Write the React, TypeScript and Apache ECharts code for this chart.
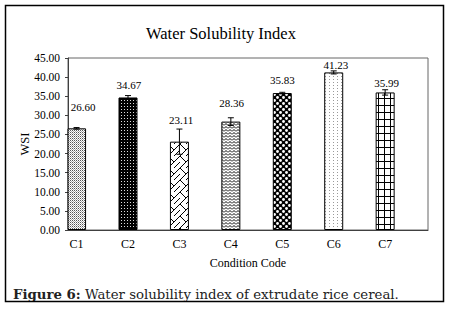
import React, { useEffect, useRef } from 'react';
import * as echarts from 'echarts';

// ---- data ----
const categories = ['C1', 'C2', 'C3', 'C4', 'C5', 'C6', 'C7'];
const wsiValues = [26.6, 34.67, 23.11, 28.36, 35.83, 41.23, 35.99];
const wsiErrors = [0.2, 0.5, 3.3, 1.0, 0.2, 0.4, 0.7];
const labelAnchors = [32.2, 37.9, 28.8, 33.2, 39.2, 43.2, 38.5];
const labelShiftSlots = [0.38, 0.05, 0.1, 0.05, 0, 0.13, 0.08];
const yMin = 0;
const yMax = 45;
const yInterval = 5;
const titleText = 'Water Solubility Index';
const xAxisName = 'Condition Code';
const yAxisName = 'WSI';
const captionBold = 'Figure 6:';
const captionText = ' Water solubility index of extrudate rice cereal.';

const SLOTS = 3; // each category occupies 3 axis slots (Excel-style cluster)
const SERIF = '"Liberation Serif", "Times New Roman", serif';
const CAPTION_FONT = '"DejaVu Serif", serif';

function tile(w: number, h: number, draw: (ctx: CanvasRenderingContext2D) => void) {
  const c = document.createElement('canvas');
  c.width = w;
  c.height = h;
  const ctx = c.getContext('2d')!;
  draw(ctx);
  return c;
}

function makePatterns() {
  const px = (ctx: CanvasRenderingContext2D, x: number, y: number, col: string) => {
    ctx.fillStyle = col;
    ctx.fillRect(x, y, 1, 1);
  };
  const p1 = tile(2, 2, (ctx) => {
    ctx.fillStyle = '#fff'; ctx.fillRect(0, 0, 2, 2);
    px(ctx, 0, 0, '#555'); px(ctx, 1, 1, '#aaa');
  });
  const p2 = tile(3, 3, (ctx) => {
    ctx.fillStyle = '#000'; ctx.fillRect(0, 0, 3, 3);
    px(ctx, 1, 1, '#ddd');
  });
  const p3 = tile(12, 12, (ctx) => {
    ctx.fillStyle = '#fff'; ctx.fillRect(0, 0, 12, 12);
    ctx.strokeStyle = '#000'; ctx.lineWidth = 1;
    ctx.beginPath();
    ctx.moveTo(-1, 13); ctx.lineTo(13, -1);
    ctx.moveTo(0, 0); ctx.lineTo(6, 6);
    ctx.moveTo(6, 12); ctx.lineTo(12, 6);
    ctx.stroke();
  });
  const p4 = tile(4, 3, (ctx) => {
    ctx.fillStyle = '#fff'; ctx.fillRect(0, 0, 4, 3);
    ctx.strokeStyle = '#000'; ctx.lineWidth = 1;
    ctx.beginPath();
    ctx.moveTo(0, 2.5); ctx.lineTo(2, 0.5); ctx.lineTo(4, 2.5);
    ctx.stroke();
  });
  const p5 = tile(6, 6, (ctx) => {
    ctx.fillStyle = '#000'; ctx.fillRect(0, 0, 6, 6);
    ctx.fillStyle = '#fff';
    ctx.beginPath(); ctx.arc(1.5, 1.5, 1.4, 0, Math.PI * 2); ctx.fill();
    ctx.beginPath(); ctx.arc(4.5, 4.5, 1.4, 0, Math.PI * 2); ctx.fill();
  });
  const p6 = tile(4, 3, (ctx) => {
    ctx.fillStyle = '#fff'; ctx.fillRect(0, 0, 4, 3);
    px(ctx, 1, 1, '#999');
  });
  const p7 = tile(6, 7, (ctx) => {
    ctx.fillStyle = '#fff'; ctx.fillRect(0, 0, 6, 7);
    ctx.fillStyle = '#000';
    ctx.fillRect(0, 0, 6, 1);
    ctx.fillRect(0, 0, 1, 7);
  });
  return [p1, p2, p3, p4, p5, p6, p7];
}

export default function App() {
  const ref = useRef<HTMLDivElement>(null);

  useEffect(() => {
    if (!ref.current) return;
    const chart = echarts.init(ref.current, null, { renderer: 'svg' });
    const patterns = makePatterns();

    const xData = Array.from({ length: categories.length * SLOTS }, (_, k) =>
      k % SLOTS === 0 ? categories[k / SLOTS] : ''
    );
    const barData = xData.map((_, k) => {
      if (k % SLOTS !== 0) return '-';
      const i = k / SLOTS;
      return {
        value: wsiValues[i],
        itemStyle: {
          color: { image: patterns[i], repeat: 'repeat' },
          borderColor: '#000',
          borderWidth: 1,
        },
      };
    });
    const errData = categories.map((_, i) => [i * SLOTS, wsiValues[i], wsiErrors[i]]);
    const labelData = categories.map((_, i) => [i * SLOTS, labelAnchors[i], wsiValues[i], labelShiftSlots[i]]);

    chart.setOption({
      animation: false,
      backgroundColor: '#fff',
      grid: { left: 68, top: 58, width: 360, height: 172, show: true, borderColor: '#666', borderWidth: 1 },
      xAxis: {
        type: 'category',
        data: xData,
        boundaryGap: true,
        axisLine: { lineStyle: { color: '#404040', width: 1 } },
        axisTick: { alignWithLabel: true, interval: 0, length: 3, lineStyle: { color: '#404040' } },
        axisLabel: { interval: 0, color: '#000', fontFamily: SERIF, fontSize: 12, margin: 8 },
        name: xAxisName,
        nameLocation: 'middle',
        nameGap: 27,
        nameTextStyle: { color: '#000', fontFamily: SERIF, fontSize: 12 },
      },
      yAxis: {
        type: 'value',
        min: yMin,
        max: yMax,
        interval: yInterval,
        splitLine: { show: false },
        axisLine: { show: true, lineStyle: { color: '#404040', width: 1 } },
        axisTick: { show: true, length: 3, lineStyle: { color: '#404040' } },
        axisLabel: {
          color: '#000', fontFamily: SERIF, fontSize: 11.5, margin: 8,
          formatter: (v: number) => v.toFixed(2),
        },
      },
      graphic: [
        {
          type: 'rect',
          shape: { x: 5.5, y: 5.5, width: 438, height: 296 },
          style: { fill: 'none', stroke: '#000', lineWidth: 1.5 },
          z: 100,
        },
        {
          type: 'text',
          x: 221,
          y: 33,
          style: {
            text: titleText, fill: '#000', fontFamily: SERIF, fontSize: 16.5,
            align: 'center', verticalAlign: 'middle',
          },
        },
        {
          type: 'text',
          x: 25,
          y: 144,
          rotation: Math.PI / 2,
          style: {
            text: yAxisName, fill: '#000', fontFamily: SERIF, fontSize: 12.5,
            align: 'center', verticalAlign: 'middle',
          },
        },
        {
          type: 'text',
          x: 13,
          y: 294,
          style: {
            text: '{b|' + captionBold + '}{n|' + captionText + '}',
            verticalAlign: 'middle',
            rich: {
              b: { fontFamily: CAPTION_FONT, fontSize: 13.3, fontWeight: 'bold', fill: '#222' },
              n: { fontFamily: CAPTION_FONT, fontSize: 13.3, fill: '#222' },
            },
          },
        },
      ],
      series: [
        {
          type: 'bar',
          data: barData,
          barWidth: 19,
          z: 2,
        },
        {
          type: 'custom',
          data: errData,
          z: 5,
          renderItem: (_p: any, api: any) => {
            const x = api.value(0);
            const v = api.value(1);
            const e = api.value(2);
            const top = api.coord([x, v + e]);
            const bot = api.coord([x, v - e]);
            const cap = 3;
            const st = { stroke: '#000', lineWidth: 1 };
            return {
              type: 'group',
              children: [
                { type: 'line', shape: { x1: top[0], y1: top[1], x2: top[0], y2: bot[1] }, style: st },
                { type: 'line', shape: { x1: top[0] - cap, y1: top[1], x2: top[0] + cap, y2: top[1] }, style: st },
                { type: 'line', shape: { x1: bot[0] - cap, y1: bot[1], x2: bot[0] + cap, y2: bot[1] }, style: st },
              ],
            };
          },
        },
        {
          type: 'custom',
          data: labelData,
          z: 6,
          renderItem: (_p: any, api: any) => {
            const pt = api.coord([api.value(0), api.value(1)]);
            const band = api.size([1, 0])[0];
            return {
              type: 'text',
              x: pt[0] + api.value(3) * band,
              y: pt[1],
              style: {
                text: Number(api.value(2)).toFixed(2),
                fill: '#000', fontFamily: SERIF, fontSize: 11,
                align: 'center', verticalAlign: 'middle',
              },
            };
          },
        },
      ],
    });
    return () => chart.dispose();
  }, []);

  return (
    <div
      ref={ref}
      style={{ position: 'fixed', left: 0, top: 0, width: 450, height: 313, background: '#fff' }}
    />
  );
}
